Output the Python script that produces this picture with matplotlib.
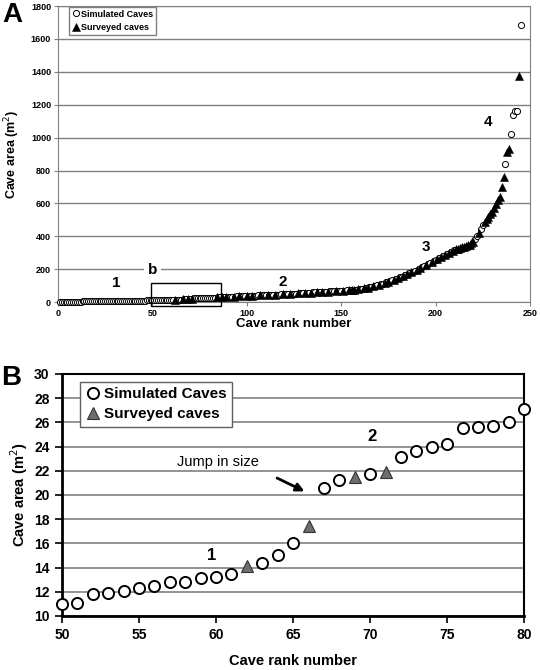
import numpy as np
import matplotlib
matplotlib.use("Agg")
import matplotlib.pyplot as plt
from matplotlib.patches import Rectangle

plt.rcParams['font.family'] = ['Liberation Sans', 'DejaVu Sans']

# cave area (m2) by rank 1..245
cave_area = [
    0.5, 1.0, 1.5, 2.0, 2.3, 2.6, 2.9, 3.1, 3.3, 3.5,
    3.7, 3.9, 4.1, 4.3, 4.5, 4.7, 4.9, 5.0, 5.2, 5.4,
    5.6, 5.8, 6.0, 6.1, 6.3, 6.5, 6.6, 6.8, 7.0, 7.1,
    7.3, 7.5, 7.6, 7.8, 8.0, 8.1, 8.3, 8.5, 8.7, 8.9,
    9.0, 9.2, 9.4, 9.6, 9.8, 10.0, 10.2, 10.5, 10.8,
    # 50-80 (panel B)
    11.0, 11.1, 11.8, 11.9, 12.1, 12.3, 12.5, 12.8, 12.8, 13.1,
    13.2, 13.5, 14.1, 14.4, 15.0, 16.0, 17.4, 20.6, 21.2, 21.5,
    21.7, 21.9, 23.1, 23.6, 24.0, 24.2, 25.5, 25.6, 25.7, 26.0,
    27.1,
    27.4, 27.8, 28.3, 28.8, 29.2, 29.7, 30.2, 30.7, 31.2, 31.7,
    32.2, 32.8, 33.3, 33.9, 34.5, 35.1, 35.7, 36.3, 37.0, 37.6,
    38.2, 38.7, 39.2, 39.7, 40.2, 40.7, 41.2, 41.7, 42.2, 42.8,
    43.3, 43.8, 44.3, 44.8, 45.3, 45.8, 46.3, 46.8, 47.4, 48.0,
    48.6, 49.3, 50.0, 50.8, 51.5, 52.3, 53.1, 54.0, 54.8, 55.5,
    56.2, 56.9, 57.6, 58.3, 59.0, 59.7, 60.4, 61.1, 61.8, 62.5,
    63.1, 63.7, 64.3, 64.9, 65.5, 66.1, 66.7, 67.3, 67.9, 68.5,
    69.4, 70.3, 71.2, 72.1, 73.0, 74.3, 75.6, 77.0, 78.4, 80.0,
    82, 84, 86, 88, 90, 93, 96, 99, 102, 105,
    108, 112, 116, 120, 124, 128, 132, 136, 141, 146,
    151, 156, 161, 166, 171, 176, 181, 186, 192, 198,
    204, 210, 216, 222, 228, 234, 240, 246, 252, 258,
    264, 270, 276, 282, 288, 294, 300, 306, 312, 318,
    322, 326, 330, 334, 338, 342, 346, 350, 358, 365,
    385, 400, 420, 445, 470, 490, 505, 520, 535, 550,
    572, 595, 620, 640, 700, 760, 840, 910, 930, 1025,
    1140, 1160, 1165, 1375, 1685,
]

surveyed_rank = [62, 66, 69, 71, 84, 87, 89, 93, 96, 100, 103, 107, 111, 115,
                 119, 123, 127, 131, 134, 137, 140, 143, 147, 151, 154, 156,
                 157, 159, 162, 164, 167, 170, 173, 175, 178, 180, 183, 185,
                 187, 190, 192, 195, 198, 201, 203, 205, 207, 209, 211, 212,
                 213, 214, 215, 216, 217, 218, 219, 220, 223, 226, 227, 228,
                 229, 230, 231, 232, 233, 234, 235, 236, 238, 239, 244]

rank = np.arange(1, len(cave_area) + 1)
area = np.array(cave_area)
surv = np.isin(rank, surveyed_rank)

fig = plt.figure(figsize=(5.4, 6.7), dpi=100)

# ---------------- panel A ----------------
axA = fig.add_axes([0.1074, 0.549, 0.874, 0.442])
axA.plot(rank[~surv], area[~surv], 'o', ms=4.4, mfc='white', mec='black',
         mew=0.7, clip_on=False, label="Simulated Caves", zorder=3)
axA.plot(rank[surv], area[surv], '^', ms=5.2, mfc='black', mec='black',
         mew=0.4, clip_on=False, label="Surveyed caves", zorder=4)
axA.set_xlim(0, 250)
axA.set_ylim(0, 1800)
axA.set_xticks(np.arange(0, 251, 50))
axA.set_yticks(np.arange(0, 1801, 200))
axA.grid(axis='y', color='#808080', lw=1)
axA.set_axisbelow(True)
for s in axA.spines.values():
    s.set_color('#808080')
axA.tick_params(labelsize=6.5, length=3, color='#808080', pad=2)
for t in axA.get_xticklabels() + axA.get_yticklabels():
    t.set_fontweight('bold')
axA.set_xlabel("Cave rank number", fontsize=9.5, fontweight='bold', labelpad=0)
axA.set_ylabel("Cave area (m$^2$)", fontsize=9, fontweight='bold', labelpad=6)
axA.legend(loc='upper left', bbox_to_anchor=(0.023, 0.997), borderaxespad=0,
           fancybox=False, edgecolor='#808080', framealpha=1,
           prop={'size': 6.5, 'weight': 'bold'}, handletextpad=0.1,
           handlelength=1.0, borderpad=0.3, labelspacing=0.5)
axA.add_patch(Rectangle((49.3, -24), 37, 140, fill=False, ec='black', lw=1,
                        clip_on=False, zorder=5))
for txt, x, y in [("1", 31, 115), ("2", 119, 122), ("3", 195, 335), ("4", 228, 1095)]:
    axA.text(x, y, txt, fontsize=11, fontweight='bold', ha='center', va='center')
axA.text(50, 195, "b", fontsize=11, fontweight='bold', ha='center', va='center',
         bbox=dict(fc='white', ec='none', pad=3))
fig.text(0.022, 0.978, "A", fontsize=20, fontweight='bold', ha='center', va='center')

# ---------------- panel B ----------------
rank_b = rank[(rank >= 50) & (rank <= 80)]
area_b = area[(rank >= 50) & (rank <= 80)]
surv_b = np.isin(rank_b, surveyed_rank)

axB = fig.add_axes([0.1148, 0.0806, 0.856, 0.3612])
axB.plot(rank_b[~surv_b], area_b[~surv_b], 'o', ms=8, mfc='white', mec='black',
         mew=1.4, clip_on=False, label="Simulated Caves", zorder=3)
axB.plot(rank_b[surv_b], area_b[surv_b], '^', ms=9, mfc='#6e6e6e', mec='#333333',
         mew=0.8, clip_on=False, label="Surveyed caves", zorder=3)
axB.set_xlim(50, 80)
axB.set_ylim(10, 30)
axB.set_xticks(np.arange(50, 81, 5))
axB.set_yticks(np.arange(10, 31, 2))
axB.grid(axis='y', color='#808080', lw=1.2)
axB.set_axisbelow(True)
for side in ['left', 'bottom']:
    axB.spines[side].set_linewidth(2)
for side in ['top', 'right']:
    axB.spines[side].set_linewidth(1.5)
axB.tick_params(labelsize=10, length=5, width=1.2, pad=4)
for t in axB.get_xticklabels() + axB.get_yticklabels():
    t.set_fontweight('bold')
axB.set_xlabel("Cave rank number", fontsize=10.5, fontweight='bold', labelpad=8)
axB.set_ylabel("Cave area (m$^2$)", fontsize=10.5, fontweight='bold', labelpad=3)
axB.legend(loc='upper left', bbox_to_anchor=(0.039, 0.967), borderaxespad=0,
           fancybox=False, edgecolor='#606060', framealpha=1,
           prop={'size': 11, 'weight': 'bold'}, handletextpad=0.2,
           handlelength=1.0, borderpad=0.35, labelspacing=0.4)
axB.text(59.7, 15.0, "1", fontsize=12, fontweight='bold', ha='center', va='center')
axB.text(70.1, 24.8, "2", fontsize=12, fontweight='bold', ha='center', va='center')
axB.text(60.1, 22.7, "Jump in size", fontsize=10.5, ha='center', va='center')
axB.annotate("", xy=(65.9, 20.2), xytext=(63.8, 21.5),
             arrowprops=dict(arrowstyle='-|>', color='black', lw=2,
                             mutation_scale=12))
fig.text(0.02, 0.436, "B", fontsize=20, fontweight='bold', ha='center', va='center')

fig.savefig("out.png", dpi=100)
